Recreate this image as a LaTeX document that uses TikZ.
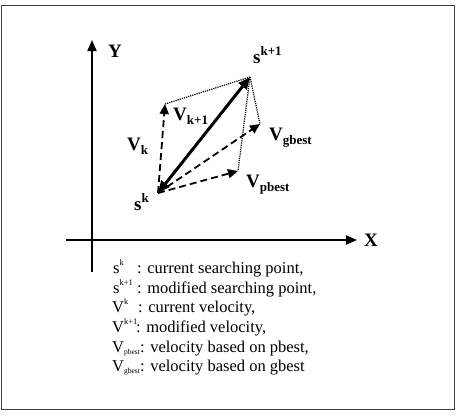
\documentclass[tikz,border=0pt]{standalone}
\usepackage{fontspec}
\setmainfont{Liberation Serif}
\usetikzlibrary{arrows.meta}
\newcommand\labsup[2]{#1\raisebox{0.42em}{\fontsize{13}{13}\selectfont #2}}
\newcommand\labsub[2]{#1\raisebox{-0.25em}{\fontsize{13}{13}\selectfont #2}}
\newcommand\legsup[2]{#1\raisebox{0.45em}{\fontsize{8.5}{8.5}\selectfont #2}}
\newcommand\legsub[2]{#1\raisebox{-0.15em}{\fontsize{7.5}{7.5}\selectfont #2}}
\begin{document}
\begin{tikzpicture}[x=1pt,y=-1pt,
  axis/.style={line width=2pt,-{Triangle[length=11pt,width=9pt]}},
  move/.style={line width=3pt,{Triangle[length=12pt,width=10pt]}-{Triangle[length=12pt,width=10pt]}},
  vel/.style={line width=1.8pt,dash pattern=on 7pt off 4pt,-{Triangle[length=10pt,width=9pt]}},
  guide/.style={line width=1.2pt,dash pattern=on 1.2pt off 1pt},
  lab/.style={font=\fontsize{19}{19}\selectfont\bfseries,inner sep=0pt,anchor=base west},
  leg/.style={font=\fontsize{16.5}{16.5}\selectfont,inner sep=0pt,anchor=base west}]
\useasboundingbox (0,0) rectangle (456,416);
\draw[line width=1pt,black!75] (1,5) rectangle (454,409);
% axes
\coordinate (ybot) at (92,272);
\coordinate (ytop) at (92,40);
\coordinate (xleft) at (66,240);
\coordinate (xright) at (357,240);
\draw[axis] (ybot) -- (ytop);
\draw[axis] (xleft) -- (xright);
\node[lab] (ylab) at (108,57) {Y};
\node[lab] (xlab) at (364,246) {X};
% points
\coordinate (sk) at (158,193);
\coordinate (sk1) at (250,77);
\coordinate (vk) at (165,104);
\coordinate (vg) at (260,124);
\coordinate (vp) at (238,171);
% guides
\draw[guide] (vk) -- (sk1);
\draw[guide] (sk1) -- (vg);
\draw[guide] (sk1) -- (vp);
% velocities
\draw[vel] (sk) -- (vk);
\draw[vel] (sk) -- (vg);
\draw[vel] (sk) -- (vp);
\draw[move] (sk) -- (sk1);
% labels
\node[lab] (lsk1) at (253,63) {\labsup{s}{k+1}};
\node[lab] (lvk1) at (173,120) {\labsub{V}{k+1}};
\node[lab] (lvk) at (127,150) {\labsub{V}{k}};
\node[lab] (lvg) at (269,140) {\labsub{V}{gbest}};
\node[lab] (lvp) at (246,187) {\labsub{V}{pbest}};
\node[lab] (lsk) at (134,210) {\labsup{s}{k}};
% legend
\node[leg] (a1) at (113,273) {\legsup{s}{k}};
\node[leg] (b1) at (137,273) {: current searching point,};
\node[leg] (a2) at (113,293) {\legsup{s}{k+1}};
\node[leg] (b2) at (137,293) {: modified searching point,};
\node[leg] (a3) at (112,312) {\legsup{V}{k}};
\node[leg] (b3) at (138,312) {: current velocity,};
\node[leg] (a4) at (112,332) {\legsup{V}{k+1}};
\node[leg] (b4) at (136,332) {: modified velocity,};
\node[leg] (a5) at (112,352) {\legsub{V}{pbest}};
\node[leg] (b5) at (140,352) {: velocity based on pbest,};
\node[leg] (a6) at (112,371) {\legsub{V}{gbest}};
\node[leg] (b6) at (140,371) {: velocity based on gbest};
\end{tikzpicture}
\end{document}
